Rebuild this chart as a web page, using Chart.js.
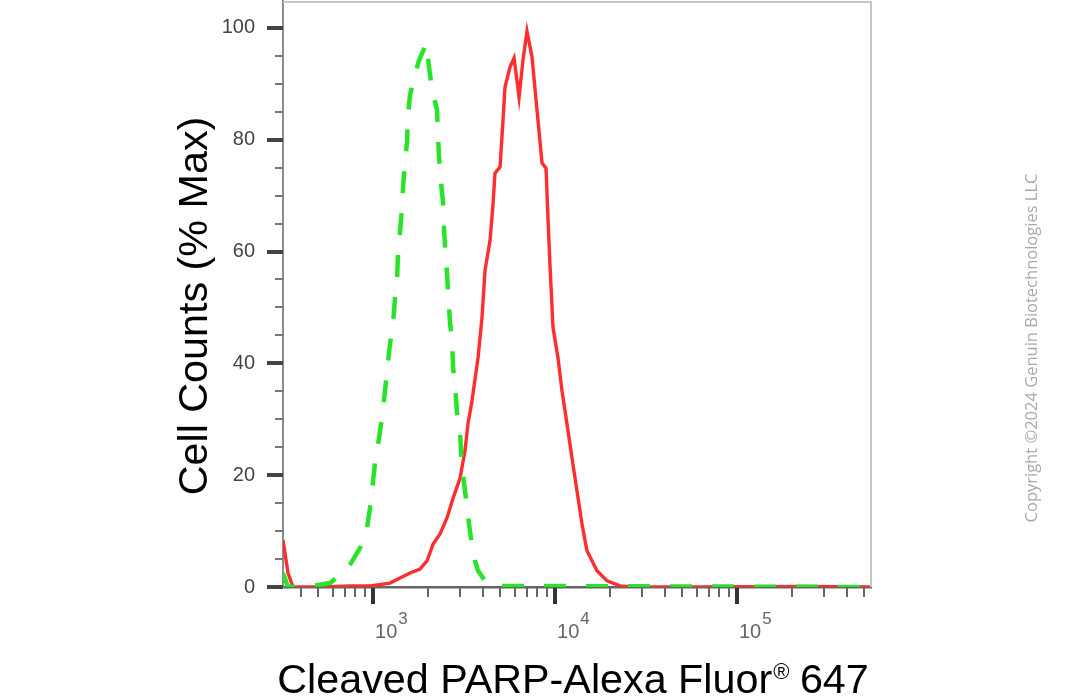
<!DOCTYPE html>
<html lang="en">
<head>
<meta charset="UTF-8">
<title>Cleaved PARP histogram</title>
<script src="https://cdn.jsdelivr.net/npm/chart.js"></script>
<style>
  body { margin: 0; background: #fff; }
  #wrap { width: 1086px; height: 700px; }
</style>
</head>
<body>
<div id="wrap"><canvas id="hist" width="1086" height="700"></canvas></div>
<script>
// Fluorescence intensity (x) and cell counts as % of max (y)
const redX = [320, 341, 363, 512, 748, 963, 1240, 1406, 1596, 1812, 1982, 2138, 2335, 2551, 2754, 3008,
  3202, 3324, 3498, 3775, 3971, 4124, 4394, 4560, 4677, 4986, 5180, 5310, 5660, 5955, 6345, 6670, 7016,
  7474, 7963, 8484, 8925, 9155, 9393, 9750, 10380, 10920, 11630, 12390, 13200, 14060, 14980, 17010,
  19310, 22760, 26830, 62660, 221800, 545000];
const redY = [8.4, 2.5, 0, 0, 0.2, 0.2, 0.7, 1.6, 2.5, 3.2, 4.7, 7.7, 9.5, 12.4, 15.9, 19.5,
  24.4, 29.2, 33.3, 41.0, 48.2, 56.6, 62.0, 68.3, 74.0, 75.1, 83.5, 89.4, 93.0, 94.6, 87.6, 94.3, 99.4,
  94.8, 85.3, 75.8, 74.9, 65.6, 57.2, 46.4, 41.0, 35.1, 29.2, 23.1, 17.2, 11.3, 6.5, 2.9,
  1.1, 0.2, 0, 0, 0.1, 0];

const greenX = [320, 341, 468, 580, 729, 849, 927, 963, 1000, 1026, 1079, 1121, 1164, 1194, 1240, 1288,
  1321, 1355, 1372, 1406, 1443, 1462, 1499, 1538, 1557, 1596, 1780, 1960, 2040, 2109, 2248, 2275, 2304,
  2364, 2425, 2455, 2488, 2551, 2584, 2650, 2718, 2754, 2825, 2897, 3008, 3085, 3202, 3324, 3498, 3631,
  3775, 4124, 4560, 545000];
const greenY = [2.5, 0, 0.2, 0.7, 3.4, 7.0, 10.6, 14.2, 19.0, 22.2, 26.7, 30.3, 35.1, 38.7, 43.5, 47.1,
  51.8, 55.0, 59.7, 63.4, 67.9, 71.5, 76.3, 79.6, 84.4, 88.0, 94.0, 97.2, 92.5, 88.9, 85.3, 80.5, 76.9,
  72.2, 68.8, 64.2, 60.6, 56.1, 52.5, 47.1, 44.1, 39.2, 35.7, 31.0, 27.4, 21.3, 17.2, 12.7, 7.3, 4.7,
  2.9, 1.1, 0.2, 0];

// axis ranges and tick labels
const xMin = 320, xMax = 545000;
const yMin = 0, yMax = 104.8;
const yLabels = [0, 20, 40, 60, 80, 100];
const xDecadeExp = [3, 4, 5];

const xTitle = ['Cleaved PARP-Alexa Fluor', '\u00AE', ' 647'];
const yTitle = 'Cell Counts (% Max)';
const note = 'Copyright \u00A92024 Genuin Biotechnologies LLC';

const FONT = '"Liberation Sans", Arial, sans-serif';

// log ticks 1..9 x 10^n inside the range
const xTickVals = [];
for (let e = 2; e <= 5; e++) {
  for (let s = 1; s <= 9; s++) {
    const v = s * Math.pow(10, e);
    if (v >= xMin && v <= xMax) xTickVals.push(v);
  }
}

const toPts = (xs, ys) => xs.map((v, i) => ({ x: v, y: ys[i] }));

const decorations = {
  id: 'decorations',
  afterDraw(chart) {
    const { ctx, chartArea: a, scales: { x, y } } = chart;
    ctx.save();

    // top / right frame
    ctx.strokeStyle = '#c6c6c6';
    ctx.lineWidth = 2;
    ctx.beginPath();
    ctx.moveTo(a.left, a.top + 1);
    ctx.lineTo(a.right, a.top + 1);
    ctx.lineTo(a.right, a.bottom);
    ctx.stroke();

    // y tick marks
    y.ticks.forEach(t => {
      if (t.value % 5 !== 0) return;
      const major = t.value % 20 === 0;
      const py = Math.round(y.getPixelForValue(t.value));
      ctx.strokeStyle = major ? '#444' : '#777';
      ctx.lineWidth = major ? 4 : 2;
      ctx.beginPath();
      ctx.moveTo(a.left - (major ? 16 : 8), py);
      ctx.lineTo(a.left, py);
      ctx.stroke();
    });

    // x tick marks + decade labels
    x.ticks.forEach(t => {
      const e = Math.log10(t.value);
      const major = Math.abs(e - Math.round(e)) < 1e-9;
      const px = Math.round(x.getPixelForValue(t.value));
      ctx.strokeStyle = major ? '#333' : '#666';
      ctx.lineWidth = major ? 4 : 2;
      ctx.beginPath();
      ctx.moveTo(px, a.bottom + 1);
      ctx.lineTo(px, a.bottom + (major ? 17 : 10));
      ctx.stroke();
    });
    ctx.fillStyle = '#666';
    ctx.textAlign = 'left';
    ctx.textBaseline = 'alphabetic';
    xDecadeExp.forEach(e => {
      const px = x.getPixelForValue(Math.pow(10, e));
      ctx.font = '20px ' + FONT;
      ctx.fillText('10', px + 2, 638);
      const w = ctx.measureText('10').width;
      ctx.font = '17px ' + FONT;
      ctx.fillText(String(e), px + 3 + w, 624);
    });

    // y title
    ctx.fillStyle = '#000';
    ctx.save();
    ctx.translate(207, 306);
    ctx.rotate(-Math.PI / 2);
    ctx.textAlign = 'center';
    ctx.font = '41.3px ' + FONT;
    ctx.fillText(yTitle, 0, 0);
    ctx.restore();

    // x title with superscript registered mark
    ctx.font = '41.3px ' + FONT;
    const w0 = ctx.measureText(xTitle[0]).width;
    const w2 = ctx.measureText(xTitle[2]).width;
    ctx.font = '22px ' + FONT;
    const w1 = ctx.measureText(xTitle[1]).width;
    let sx = 573 - (w0 + w1 + w2) / 2;
    ctx.font = '41.3px ' + FONT;
    ctx.fillText(xTitle[0], sx, 693);
    ctx.font = '22px ' + FONT;
    ctx.fillText(xTitle[1], sx + w0 + 1, 679);
    ctx.font = '41.3px ' + FONT;
    ctx.fillText(xTitle[2], sx + w0 + w1, 693);

    // copyright note
    ctx.save();
    ctx.translate(1037, 348);
    ctx.rotate(-Math.PI / 2);
    ctx.textAlign = 'center';
    ctx.fillStyle = '#a9a9a9';
    ctx.font = '16.5px "Open Sans", sans-serif';
    ctx.fillText(note, 0, 0);
    ctx.restore();

    ctx.restore();
  }
};

new Chart(document.getElementById('hist'), {
  type: 'scatter',
  data: {
    datasets: [
      {
        label: 'Isotype control',
        data: toPts(greenX, greenY),
        showLine: true,
        borderColor: 'rgb(40,228,40)',
        borderWidth: 4.5,
        borderDash: [22, 20],
        pointRadius: 0,
        tension: 0
      },
      {
        label: 'Cleaved PARP',
        data: toPts(redX, redY),
        showLine: true,
        borderColor: 'rgb(255,45,45)',
        borderWidth: 3.4,
        pointRadius: 0,
        tension: 0
      }
    ]
  },
  options: {
    responsive: false,
    animation: false,
    layout: { padding: { left: 0, right: 215, top: 1, bottom: 0 } },
    plugins: { legend: { display: false }, tooltip: { enabled: false } },
    scales: {
      x: {
        type: 'logarithmic',
        min: xMin,
        max: xMax,
        afterBuildTicks: s => { s.ticks = xTickVals.map(v => ({ value: v })); },
        afterFit: s => { s.height = 113; s.paddingLeft = 0; s.paddingRight = 0; },
        ticks: { display: false },
        grid: { display: false, drawTicks: false },
        border: { display: true, color: '#666', width: 2.5 }
      },
      y: {
        min: yMin,
        max: yMax,
        afterFit: s => { s.width = 283; s.paddingTop = 0; s.paddingBottom = 0; },
        ticks: {
          stepSize: 5,
          includeBounds: false,
          padding: 28,
          color: '#444',
          font: { family: FONT, size: 20 },
          callback: v => (yLabels.includes(v) ? String(v) : '')
        },
        grid: { display: false, drawTicks: false },
        border: { display: true, color: '#8c8c8c', width: 2 }
      }
    }
  },
  plugins: [decorations]
});
</script>
</body>
</html>
